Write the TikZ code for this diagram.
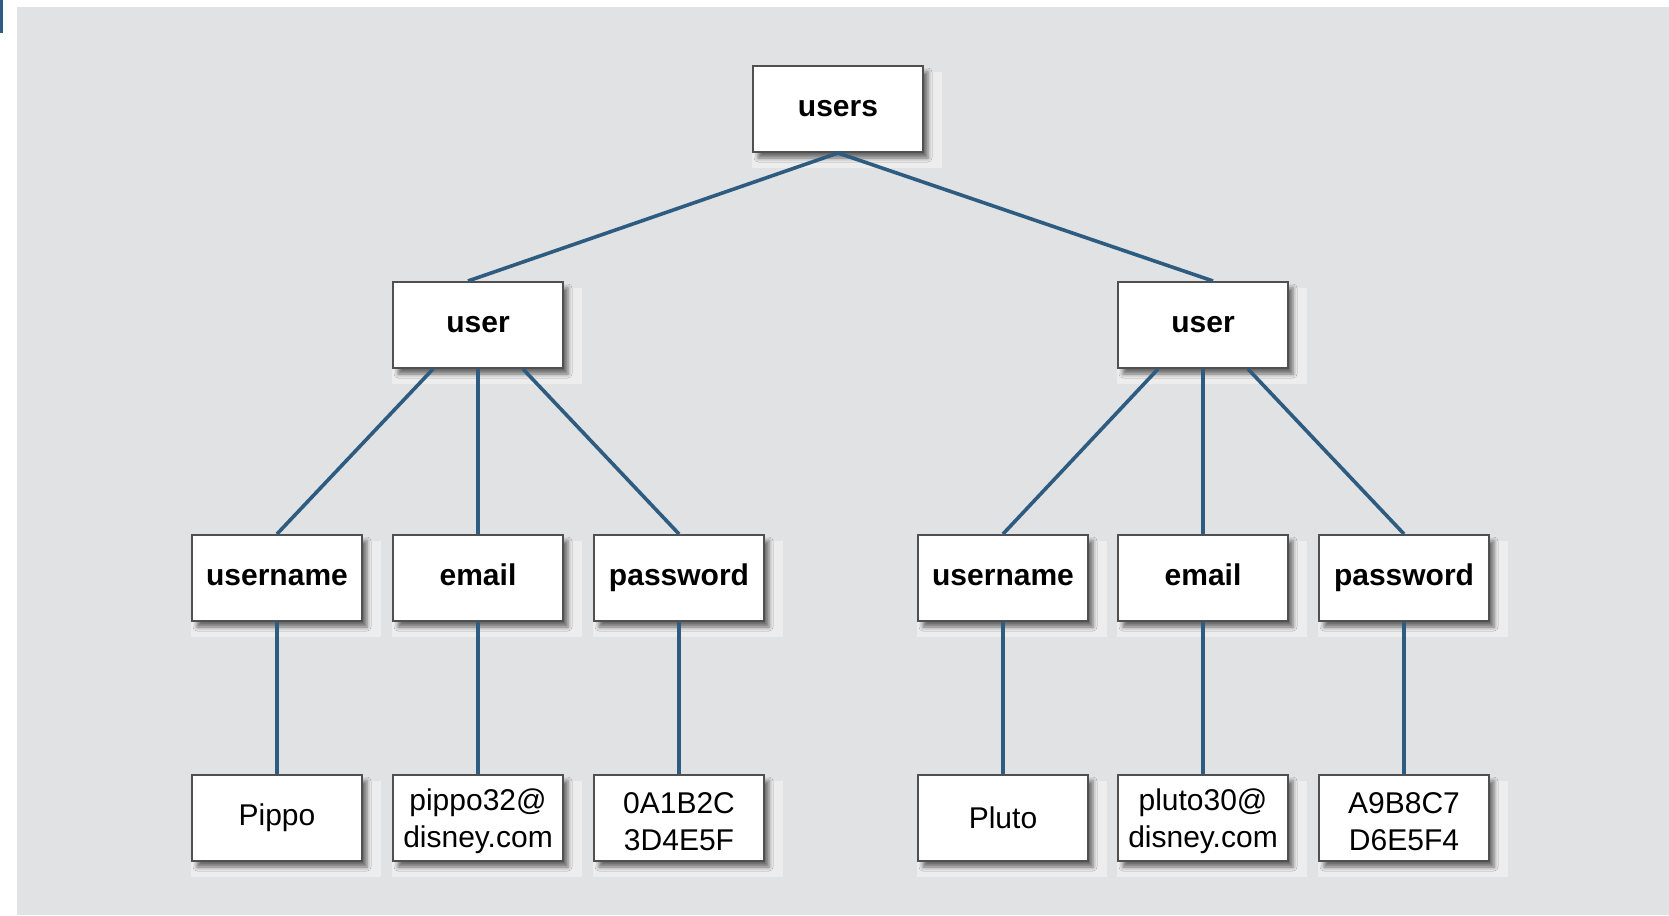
\documentclass[tikz,border=0pt]{standalone}
\usepackage{fontspec}
\setmainfont{Liberation Sans}
\usetikzlibrary{shadows,shadows.blur}
\definecolor{bggray}{HTML}{E1E2E4}
\definecolor{linkblue}{HTML}{2E5C80}
\definecolor{boxline}{HTML}{505050}
\tikzset{
  box/.style={draw=boxline, line width=1pt, fill=white, minimum width=85pt,
    minimum height=43pt, inner sep=1pt, align=center,
    font=\fontsize{15}{18.6}\selectfont,
    general shadow={fill=white, opacity=.4, shadow scale=1.12,
      shadow xshift=4pt, shadow yshift=-5pt},
    blur shadow={shadow xshift=2.5pt, shadow yshift=-3pt,
      shadow blur radius=2pt, shadow opacity=55}},
  pair/.style={box, text height=32.5pt},
  tag/.style={box, font=\fontsize{15}{18.6}\selectfont\bfseries,
    text height=11pt, text depth=3.5pt},
  link/.style={draw=linkblue, line width=1.8pt}
}
\begin{document}
\begin{tikzpicture}[x=0.5pt,y=-0.5pt]
        \useasboundingbox (0,0) rectangle (1669,915);
        \fill[bggray] (17,7) rectangle (1669,915);
        \fill[linkblue] (0,0) rectangle (3,33);
        % tree of elements
        \node[tag] (U) at (838,109) {users};
        \node[tag] (L) at (478,325) {user};
        \node[tag] (R) at (1203,325) {user};
        \node[tag] (LN) at (277,578) {username};
        \node[tag] (LE) at (478,578) {email};
        \node[tag] (LP) at (679,578) {password};
        \node[tag] (RN) at (1003,578) {username};
        \node[tag] (RE) at (1203,578) {email};
        \node[tag] (RP) at (1404,578) {password};
        \node[box] (LNv) at (277,818) {Pippo};
        \node[pair] (LEv) at (478,818) {pippo32@\\disney.com};
        \node[pair] (LPv) at (679,818) {0A1B2C\\3D4E5F};
        \node[box] (RNv) at (1003,818) {Pluto};
        \node[pair] (REv) at (1203,818) {pluto30@\\disney.com};
        \node[pair] (RPv) at (1404,818) {A9B8C7\\D6E5F4};
        % connectors
        \draw[link] (U.south) -- ([xshift=-5pt]L.north);
        \draw[link] (U.south) -- ([xshift=5pt]R.north);
        \draw[link] ([xshift=-22.5pt]L.south) -- (LN.north);
        \draw[link] (L.south) -- (LE.north);
        \draw[link] ([xshift=22.5pt]L.south) -- (LP.north);
        \draw[link] ([xshift=-22.5pt]R.south) -- (RN.north);
        \draw[link] (R.south) -- (RE.north);
        \draw[link] ([xshift=22.5pt]R.south) -- (RP.north);
        \draw[link] (LN.south) -- (LNv.north);
        \draw[link] (LE.south) -- (LEv.north);
        \draw[link] (LP.south) -- (LPv.north);
        \draw[link] (RN.south) -- (RNv.north);
        \draw[link] (RE.south) -- (REv.north);
        \draw[link] (RP.south) -- (RPv.north);
\end{tikzpicture}
\end{document}
